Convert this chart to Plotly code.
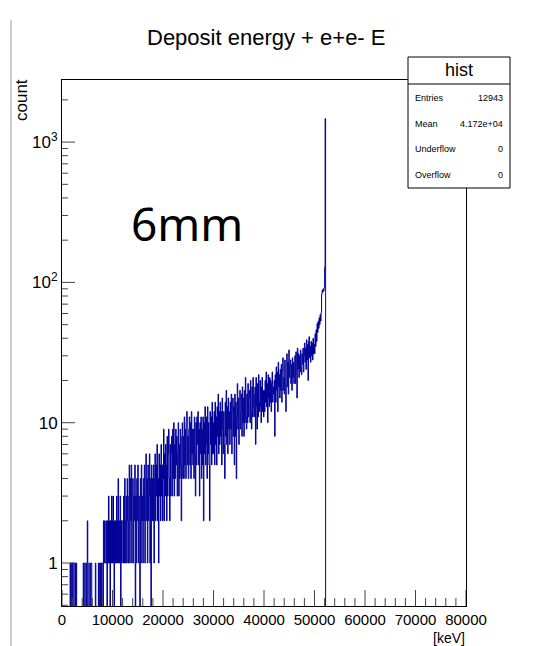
import plotly.graph_objects as go
import numpy as np

# ---------------- data ----------------
bin_width = 100.0          # keV
x_min, x_max = 0.0, 80000.0
# counts per 100 keV bin, starting at 0 keV; one row = 2000 keV (bins after the last value are empty)
counts = [
    0, 0, 0, 0, 0, 0, 0, 0, 0, 0, 0, 0, 0, 0, 0, 0, 1, 0, 0, 1,
    1, 0, 1, 1, 0, 0, 1, 0, 1, 0, 0, 0, 0, 0, 0, 0, 0, 0, 0, 0,
    0, 0, 1, 0, 1, 1, 0, 0, 1, 0, 2, 1, 0, 0, 0, 1, 0, 1, 1, 0,
    0, 0, 0, 0, 0, 0, 1, 0, 0, 0, 0, 0, 1, 0, 1, 1, 0, 1, 0, 1,
    1, 0, 2, 1, 2, 1, 1, 2, 1, 0, 2, 1, 3, 1, 2, 0, 2, 1, 3, 2,
    1, 3, 1, 0, 2, 1, 2, 1, 3, 1, 2, 4, 1, 2, 1, 3, 0, 2, 1, 2,
    2, 1, 3, 1, 4, 1, 2, 3, 1, 4, 2, 1, 3, 5, 1, 4, 2, 5, 1, 3,
    4, 1, 3, 2, 5, 0, 3, 1, 4, 2, 5, 1, 3, 2, 0, 4, 1, 5, 2, 3,
    1, 4, 2, 5, 1, 3, 6, 2, 4, 1, 5, 2, 3, 6, 1, 4, 0, 5, 2, 4,
    2, 5, 1, 4, 6, 2, 5, 3, 7, 2, 4, 1, 6, 3, 5, 2, 7, 3, 5, 2,
    4, 9, 2, 6, 3, 7, 5, 2, 8, 3, 6, 9, 4, 2, 7, 3, 6, 8, 3, 9,
    4, 10, 3, 7, 4, 9, 5, 8, 3, 6, 10, 3, 7, 4, 9, 5, 2, 8, 10, 4,
    8, 4, 11, 5, 9, 4, 10, 12, 5, 8, 4, 9, 11, 5, 10, 4, 12, 6, 9, 5,
    9, 4, 11, 6, 3, 10, 5, 11, 7, 12, 5, 9, 3, 10, 6, 11, 4, 9, 5, 11,
    2, 10, 6, 13, 5, 11, 7, 4, 13, 6, 10, 5, 2, 12, 7, 11, 5, 14, 6, 10,
    6, 12, 5, 14, 7, 11, 5, 13, 8, 16, 6, 12, 7, 14, 8, 12, 5, 15, 9, 6,
    12, 7, 4, 14, 8, 17, 7, 13, 6, 15, 9, 12, 7, 14, 9, 16, 6, 12, 15, 8,
    13, 5, 16, 8, 14, 4, 11, 19, 9, 15, 7, 13, 17, 9, 12, 16, 8, 18, 10, 15,
    8, 17, 10, 21, 11, 9, 16, 10, 19, 11, 15, 17, 10, 20, 12, 9, 18, 11, 21, 13,
    11, 16, 18, 7, 21, 13, 9, 19, 11, 22, 14, 12, 20, 13, 10, 18, 21, 12, 17, 11,
    17, 12, 20, 14, 23, 13, 19, 10, 22, 15, 13, 21, 14, 20, 12, 19, 23, 14, 18, 16,
    20, 8, 22, 14, 25, 17, 23, 12, 27, 18, 22, 15, 24, 17, 26, 14, 23, 29, 17, 21,
    16, 28, 19, 12, 26, 31, 18, 27, 16, 33, 21, 25, 28, 19, 26, 17, 29, 21, 27, 19,
    26, 30, 19, 32, 22, 15, 34, 24, 31, 21, 30, 23, 33, 25, 22, 31, 26, 34, 23, 30,
    37, 27, 34, 24, 39, 28, 36, 20, 38, 41, 29, 35, 27, 38, 30, 37, 28, 40, 31, 36,
    31, 43, 35, 46, 38, 51, 44, 53, 47, 56, 50, 59, 53, 61, 82, 88, 85, 90, 87, 92,
    128, 1470,
]
hist_title = "Deposit energy + e+e- E"
x_title = "[keV]"
y_title = "count"
stats_labels = ["Entries", "Mean", "Underflow", "Overflow"]
stats_values = ["12943", "4.172e+04", "0", "0"]
x_tick_vals = [0, 10000, 20000, 30000, 40000, 50000, 60000, 70000, 80000]
x_tick_text = ["0", "10000", "20000", "30000", "40000", "50000", "60000", "70000", "80000"]
x_minor_step = 2000
y_tick_vals = [1, 10, 100, 1000]
y_tick_text = ["1", "10", "10<sup>2</sup>", "10<sup>3</sup>"]
label_text = "6mm"

# ---------------- figure ----------------
W, H = 546, 646
L, R, T, B = 62, 466, 80, 606  # plot area in pixels

def px(x):
    return (x - L) / (R - L)

def py(y):
    return (B - y) / (B - T)

n_bins = int((x_max - x_min) / bin_width)
vals = np.zeros(n_bins)
vals[:len(counts)] = counts
edges = x_min + bin_width * np.arange(n_bins + 1)
xs = list(edges)
ys = [v if v > 0 else 1e-3 for v in vals] + [vals[-1] if vals[-1] > 0 else 1e-3]

line_col = "#000099"
tick_col = "#444"
fig = go.Figure()
fig.add_trace(go.Scatter(x=xs, y=ys, mode="lines", line=dict(shape="hv", color=line_col, width=1),
                         showlegend=False, hoverinfo="skip"))

ylo, yhi = np.log10(0.494), np.log10(2770)
minor_y = [m * 10 ** d for d in range(-1, 4) for m in range(2, 10)]

fig.update_layout(
    width=W, height=H,
    margin=dict(l=L, r=W - R, t=T, b=H - B),
    paper_bgcolor="white", plot_bgcolor="white",
    font=dict(family="Liberation Sans, Arial, sans-serif", color="black"),
    xaxis=dict(range=[x_min, x_max], tickvals=x_tick_vals, ticktext=x_tick_text, ticks="",
               showgrid=False, zeroline=False, showline=True,
               linecolor="black", linewidth=1, mirror=True,
               tickfont=dict(size=15)),
    yaxis=dict(type="log", range=[ylo, yhi], tickvals=y_tick_vals, ticktext=y_tick_text,
               ticks="", showgrid=False, zeroline=False,
               showline=True, linecolor="black", linewidth=1, mirror=True,
               tickfont=dict(size=17)),
)
# y ticks (major + minor log ticks)
for v in y_tick_vals:
    fig.add_shape(type="line", xref="paper", yref="y", x0=0, x1=13 / (R - L), y0=v, y1=v,
                  line=dict(color=tick_col, width=1))
for v in minor_y:
    if 10 ** ylo < v < 10 ** yhi:
        fig.add_shape(type="line", xref="paper", yref="y", x0=0, x1=6 / (R - L), y0=v, y1=v,
                      line=dict(color=tick_col, width=1))
# x ticks (major + minor)
for xv in np.arange(x_min, x_max + 1, x_minor_step):
    major = (xv % 10000) == 0
    ln = 16 if major else 8
    fig.add_shape(type="line", xref="x", yref="paper", x0=xv, x1=xv, y0=0, y1=ln / (B - T),
                  line=dict(color=tick_col, width=1))

# titles
fig.add_annotation(text=hist_title, xref="paper", yref="paper", x=px(266), y=py(37),
                   showarrow=False, font=dict(size=22), xanchor="center", yanchor="middle")
fig.add_annotation(text=x_title, xref="paper", yref="paper", x=px(467), y=py(638),
                   showarrow=False, font=dict(size=14), xanchor="right", yanchor="middle")
fig.add_annotation(text=y_title, xref="paper", yref="paper", x=px(21), y=py(100),
                   showarrow=False, font=dict(size=17), textangle=-90,
                   xanchor="center", yanchor="middle")
fig.add_annotation(text=label_text, xref="paper", yref="paper", x=px(187), y=py(223),
                   showarrow=False, font=dict(size=46, family="Noto Sans, DejaVu Sans"),
                   xanchor="center", yanchor="middle")

# stats box
bx0, bx1, by0, by1, bsep = 408, 510, 57, 188, 84
fig.add_shape(type="rect", xref="paper", yref="paper", x0=px(bx0), x1=px(bx1), y0=py(by1), y1=py(by0),
              line=dict(color="black", width=1), fillcolor="white", layer="above")
fig.add_shape(type="line", xref="paper", yref="paper", x0=px(bx0), x1=px(bx1), y0=py(bsep), y1=py(bsep),
              line=dict(color="black", width=1), layer="above")
fig.add_annotation(text="hist", xref="paper", yref="paper", x=px((bx0 + bx1) / 2), y=py(70),
                   showarrow=False, font=dict(size=18), xanchor="center", yanchor="middle")
row_y = [98, 124, 149, 175]
for lab, val, ry in zip(stats_labels, stats_values, row_y):
    fig.add_annotation(text=lab, xref="paper", yref="paper", x=px(413), y=py(ry),
                       showarrow=False, font=dict(size=9), xanchor="left", yanchor="middle")
    fig.add_annotation(text=val, xref="paper", yref="paper", x=px(505), y=py(ry),
                       showarrow=False, font=dict(size=9), xanchor="right", yanchor="middle")

# canvas border line on the left
fig.add_shape(type="line", xref="paper", yref="paper", x0=px(11), x1=px(11), y0=py(20), y1=py(646),
              line=dict(color="#999", width=1))

fig.write_html("out.html")
